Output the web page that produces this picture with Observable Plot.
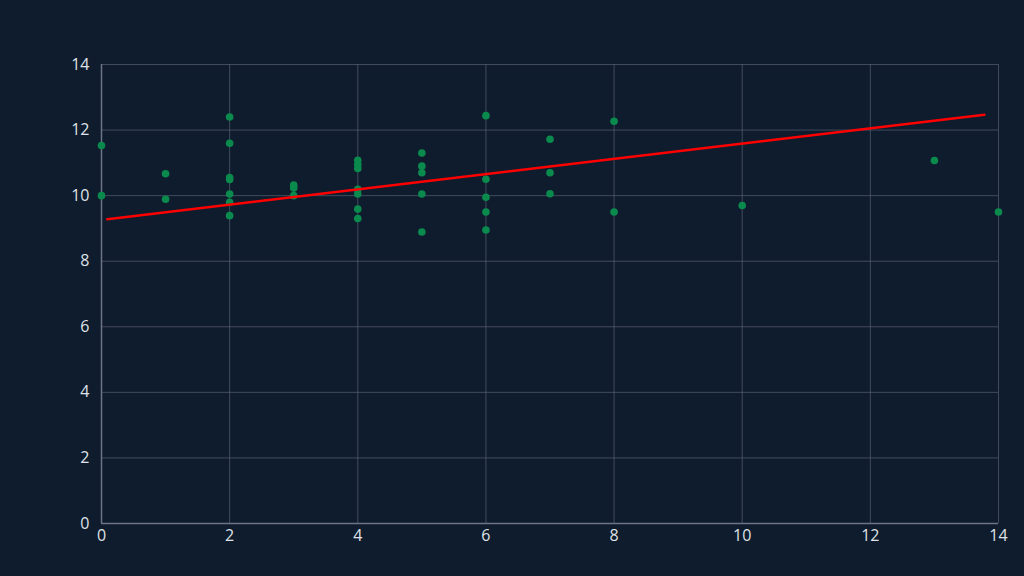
<!DOCTYPE html>
<html>
<head>
<meta charset="utf-8">
<script src="https://cdn.jsdelivr.net/npm/d3@7"></script>
<script src="https://cdn.jsdelivr.net/npm/@observablehq/plot@0.6"></script>
<style>
  html, body { margin: 0; padding: 0; background: #0f1c2e; }
  #chart { width: 1024px; height: 576px; }
</style>
</head>
<body>
<div id="chart"></div>
<script>
const xs = [0, 0, 1, 1, 2, 2, 2, 2, 2, 2, 2, 3, 3, 3, 4, 4, 4, 4, 4, 4, 4,
            5, 5, 5, 5, 5, 6, 6, 6, 6, 6, 7, 7, 7, 8, 8, 10, 13, 14];
const ys = [11.53, 10.0, 10.67, 9.89, 12.40, 11.60, 10.55, 10.49, 10.05, 9.80, 9.39,
            10.32, 10.23, 10.0, 11.08, 10.95, 10.83, 10.19, 10.05, 9.59, 9.30,
            11.30, 10.90, 10.70, 10.05, 8.89, 12.44, 10.50, 9.95, 9.50, 8.95,
            11.72, 10.70, 10.06, 12.27, 9.50, 9.70, 11.07, 9.50];
const fitX = [0.09, 13.78];
const fitY = [9.28, 12.47];
const ticks = [0, 2, 4, 6, 8, 10, 12, 14];

const points = xs.map((x, i) => ({x, y: ys[i]}));
const fit = fitX.map((x, i) => ({x, y: fitY[i]}));

const chart = Plot.plot({
  width: 1024,
  height: 576,
  marginLeft: 101,
  marginRight: 26,
  marginTop: 64,
  marginBottom: 53,
  style: {background: "#0f1c2e", color: "#dfe2e6", fontFamily: "'Open Sans', sans-serif", fontSize: "16px"},
  x: {domain: [0, 14]},
  y: {domain: [0, 14]},
  marks: [
    Plot.gridX(ticks, {stroke: "#5c6675", strokeOpacity: 0.65}),
    Plot.gridY(ticks, {stroke: "#5c6675", strokeOpacity: 0.65}),
    Plot.ruleX([0], {stroke: "#6b7585", strokeWidth: 1.5}),
    Plot.ruleY([0], {stroke: "#6b7585", strokeWidth: 1.5}),
    Plot.axisX(ticks, {tickSize: 0, tickPadding: 6, label: null, fill: "#dfe2e6", fontSize: 16}),
    Plot.axisY(ticks, {tickSize: 0, tickPadding: 12, label: null, fill: "#dfe2e6", fontSize: 16}),
    Plot.dot(points, {x: "x", y: "y", r: 3.8, fill: "#0a8a4c", stroke: "none"}),
    Plot.line(fit, {x: "x", y: "y", stroke: "#ff0000", strokeWidth: 2.5})
  ]
});
document.getElementById("chart").appendChild(chart);
</script>
</body>
</html>
